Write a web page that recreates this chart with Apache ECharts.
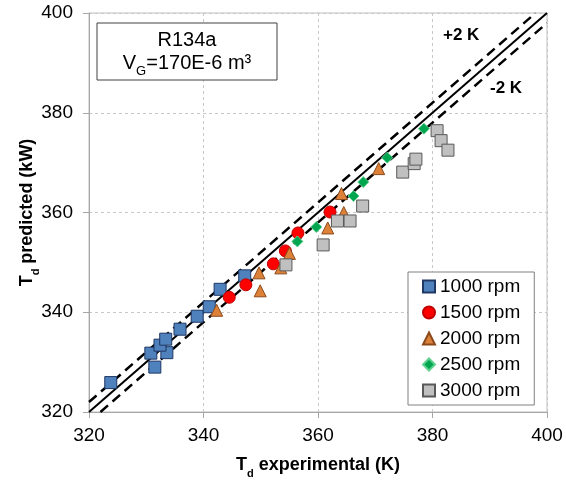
<!DOCTYPE html>
<html>
<head>
<meta charset="utf-8">
<script src="https://cdn.jsdelivr.net/npm/echarts@6/dist/echarts.min.js"></script>
<style>html,body{margin:0;padding:0;background:#fff}#c{width:566px;height:484px}</style>
</head>
<body>
<div id="c"></div>
<script>
var xTicks = [320, 340, 360, 380, 400];
var yTicks = [320, 340, 360, 380, 400];
var seriesNames = ['1000 rpm', '1500 rpm', '2000 rpm', '2500 rpm', '3000 rpm'];
var rpm1000 = [[323.8,325.9],[331.5,329.0],[330.8,331.8],[333.6,331.9],[332.4,333.4],[333.4,334.6],[335.9,336.6],[338.9,339.2],[341.0,341.1],[342.9,344.6],[347.2,347.3]];
var rpm1500 = [[344.5,343.0],[347.4,345.5],[352.2,349.7],[354.3,352.3],[356.5,355.9],[362.1,360.1]];
var rpm2000 = [[342.3,340.4],[349.7,347.9],[349.9,344.3],[353.5,348.9],[355.0,351.8],[361.7,356.9],[364.5,360.0],[364.1,363.8],[370.6,368.8]];
var rpm2500 = [[356.4,354.2],[359.7,357.1],[366.2,363.3],[367.9,366.1],[372.1,371.0],[378.5,376.8]];
var rpm3000 = [[354.4,349.5],[360.9,353.5],[363.4,358.3],[365.6,358.3],[367.8,361.3],[374.8,368.1],[376.8,369.8],[377.1,370.7],[380.8,376.4],[381.5,374.4],[382.7,372.5]];
var perfectLine = [[320,320],[400,400]];
var plusBand = [[320,322],[398,400]];
var minusBand = [[322,320],[400,398]];

var chart = echarts.init(document.getElementById('c'));
var FONT = 'Liberation Sans, Arial, sans-serif';
function scat(name, data, symbol, size, fill, border) {
  return {
    name: name, type: 'scatter', data: data, symbol: symbol, symbolSize: size, z: 5,
    itemStyle: { color: fill, borderColor: border, borderWidth: 1, opacity: 1 }
  };
}
function ln(data, dashed) {
  return {
    type: 'line', data: data, symbol: 'none', z: 2, silent: true, legendHoverLink: false,
    lineStyle: { color: '#000', width: dashed ? 2.5 : 2, type: dashed ? [10, 6] : 'solid' }
  };
}
var nameRich = {
  a: { fontSize: 18, fontWeight: 'bold', fontFamily: FONT, color: '#000', lineHeight: 24 },
  s: { fontSize: 11, fontWeight: 'bold', fontFamily: FONT, color: '#000', lineHeight: 24, verticalAlign: 'bottom', padding: [0, 0, -2, 0] }
};
chart.setOption({
  animation: false,
  grid: { left: 89, right: 19, top: 13, bottom: 72, show: true, borderColor: '#bfbfbf', borderWidth: 1 },
  xAxis: {
    type: 'value', min: xTicks[0], max: xTicks[xTicks.length - 1], interval: 20,
    axisLine: { lineStyle: { color: '#a6a6a6' } },
    axisTick: { show: true, length: 6, lineStyle: { color: '#a6a6a6' } },
    splitLine: { lineStyle: { color: '#c8c8c8', type: [3, 3] } },
    axisLabel: { color: '#000', fontSize: 19, fontFamily: FONT, margin: 14 },
    name: '{a|T}{s|d}{a| experimental (K)}', nameLocation: 'middle', nameGap: 41, nameMoveOverlap: false,
    nameTextStyle: { rich: nameRich }
  },
  yAxis: {
    type: 'value', min: yTicks[0], max: yTicks[yTicks.length - 1], interval: 20,
    axisLine: { show: true, lineStyle: { color: '#a6a6a6' } },
    axisTick: { show: true, length: 6, lineStyle: { color: '#a6a6a6' } },
    splitLine: { lineStyle: { color: '#c8c8c8', type: [3, 3] } },
    axisLabel: { color: '#000', fontSize: 19, fontFamily: FONT, margin: 16 },
    name: '{a|T}{s|d}{a| predicted (kW)}', nameLocation: 'middle', nameGap: 50, nameRotate: 90, nameMoveOverlap: false,
    nameTextStyle: { rich: nameRich }
  },
  legend: {
    data: seriesNames, orient: 'vertical', left: 408, top: 272,
    backgroundColor: '#fff', borderColor: '#808080', borderWidth: 1,
    padding: [5, 14, 5, 14], itemGap: 7, itemWidth: 12, itemHeight: 12,
    textStyle: { fontSize: 19, fontFamily: FONT, color: '#000' }
  },
  graphic: [
    { type: 'rect', shape: { x: 97, y: 23, width: 180, height: 57 }, style: { fill: '#fff', stroke: '#404040', lineWidth: 1 }, z: 10 },
    { type: 'text', z: 11, x: 187, y: 40, style: { text: 'R134a', align: 'center', verticalAlign: 'middle', font: '20px ' + FONT, fill: '#000' } },
    { type: 'text', z: 11, x: 187, y: 63, style: {
      text: '{a|V}{s|G}{a|=170E-6 m³}', align: 'center', verticalAlign: 'middle', fill: '#000',
      rich: { a: { fontSize: 20, fontFamily: FONT, lineHeight: 24 }, s: { fontSize: 13, fontFamily: FONT, lineHeight: 24, verticalAlign: 'bottom', padding: [0, 0, -3, 0] } }
    } },
    { type: 'text', z: 11, x: 443, y: 35, style: { text: '+2 K', verticalAlign: 'middle', font: 'bold 17px ' + FONT, fill: '#000' } },
    { type: 'text', z: 11, x: 490, y: 88, style: { text: '-2 K', verticalAlign: 'middle', font: 'bold 17px ' + FONT, fill: '#000' } }
  ],
  series: [
    ln(perfectLine, false), ln(plusBand, true), ln(minusBand, true),
    scat(seriesNames[0], rpm1000, 'rect', 12, '#4f81bd', '#1f3864'),
    scat(seriesNames[1], rpm1500, 'circle', 12, '#ff0000', '#c00000'),
    scat(seriesNames[2], rpm2000, 'triangle', 12, '#dd8139', '#8a4a1c'),
    scat(seriesNames[3], rpm2500, 'diamond', 11, '#00a550', '#5fd08d'),
    scat(seriesNames[4], rpm3000, 'rect', 12, '#c0c0c0', '#595959')
  ]
});
</script>
</body>
</html>
